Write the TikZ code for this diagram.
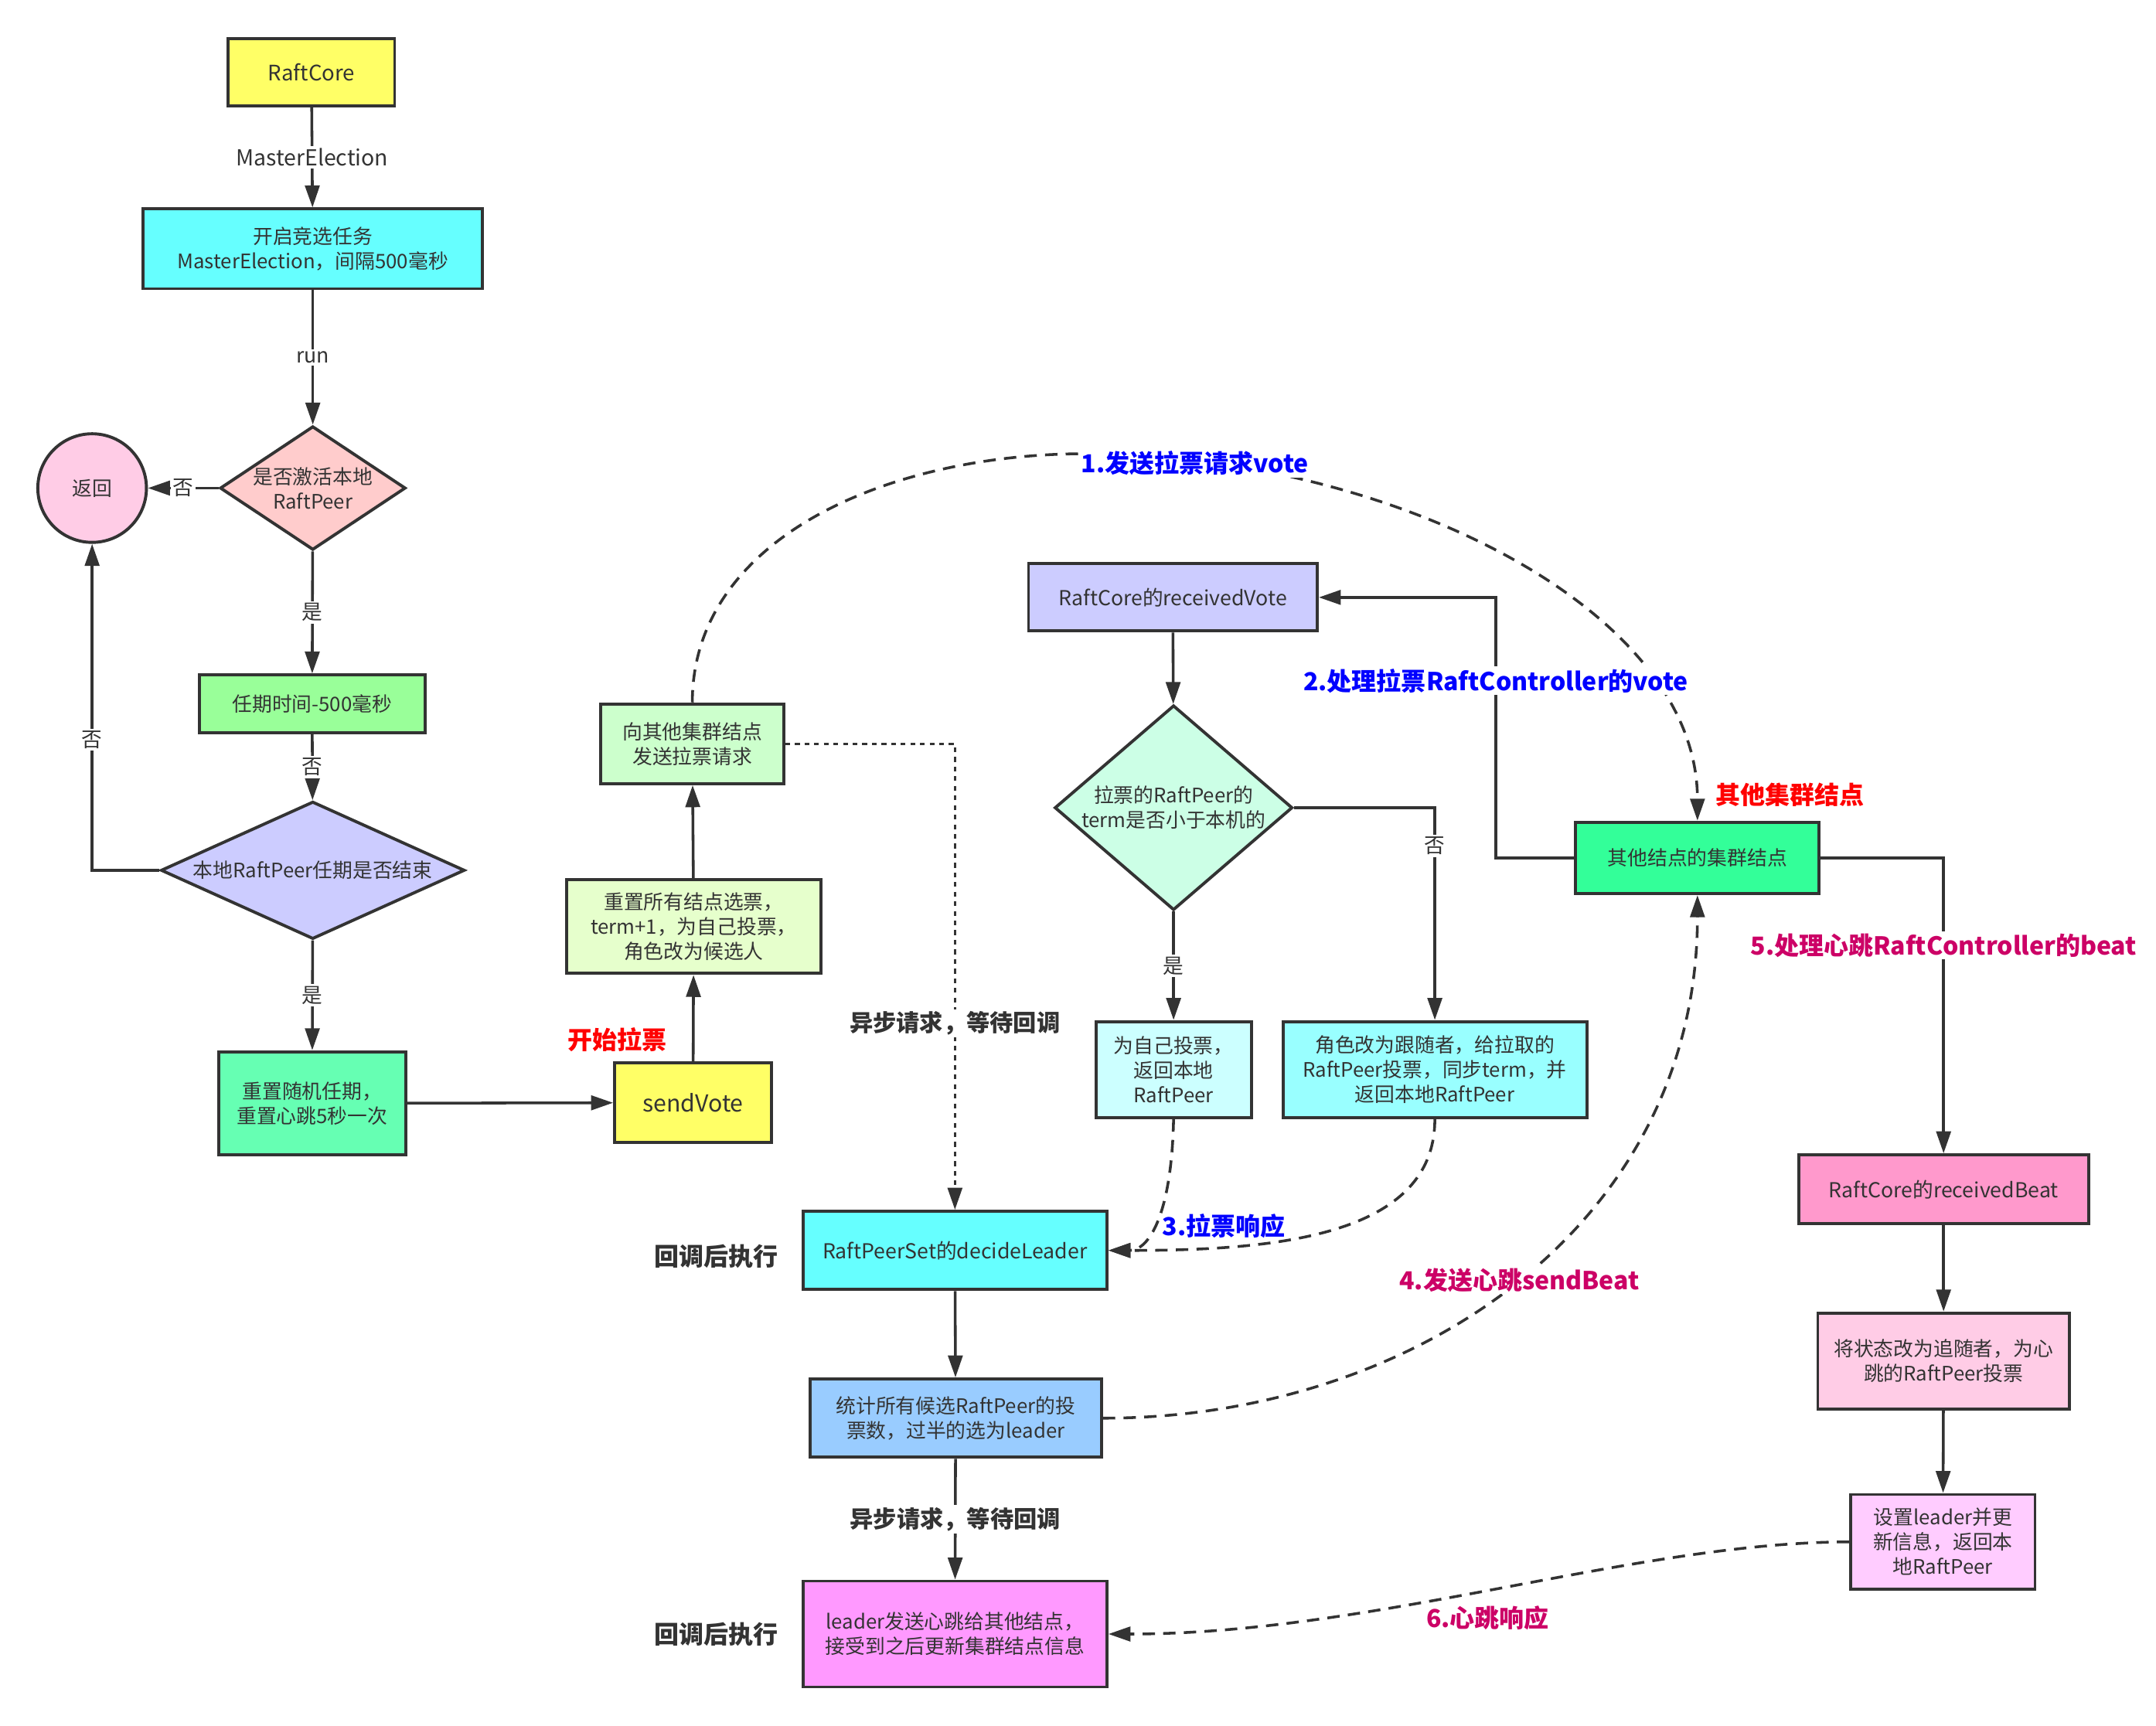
\documentclass[tikz,border=0pt]{standalone}
\usepackage{fontspec}
\setmainfont{Noto Sans CJK SC}
\usetikzlibrary{arrows.meta,shapes.geometric}
\definecolor{lc}{HTML}{333333}
\definecolor{tc}{HTML}{333333}
\definecolor{cblue}{HTML}{0000FF}
\definecolor{cmag}{HTML}{CC0066}
\definecolor{cred}{HTML}{FF0000}
\definecolor{fYellow}{HTML}{FFFF66}
\definecolor{fCyan}{HTML}{66FFFF}
\definecolor{fRose}{HTML}{FFCCCC}
\definecolor{fPink}{HTML}{FFCCE6}
\definecolor{fGreen}{HTML}{99FF99}
\definecolor{fLav}{HTML}{CCCCFF}
\definecolor{fMint}{HTML}{66FFB3}
\definecolor{fLime}{HTML}{E6FFCC}
\definecolor{fPale}{HTML}{CCFFCC}
\definecolor{fAqua}{HTML}{CCFFE6}
\definecolor{fIce}{HTML}{CCFFFF}
\definecolor{fSky}{HTML}{99FFFF}
\definecolor{fSpring}{HTML}{33FF99}
\definecolor{fBlue}{HTML}{99CCFF}
\definecolor{fMagenta}{HTML}{FF99FF}
\definecolor{fHot}{HTML}{FF99CC}
\definecolor{fOrchid}{HTML}{FFCCFF}
\tikzset{
  box/.style={draw=lc, line width=2.2pt, rectangle, inner sep=0pt, align=center,
    text=tc, font=\fontsize{14.5}{18}\selectfont},
  dia/.style={draw=lc, line width=2.2pt, diamond, inner sep=0pt},
  dtext/.style={align=center, text=tc, font=\fontsize{14.5}{18}\selectfont},
  conn/.style={draw=lc, line width=2pt, -{Triangle[length=16pt,width=10.5pt]}},
  dconn/.style={conn, dash pattern=on 9pt off 6pt},
  dotconn/.style={conn, dash pattern=on 3.5pt off 3.5pt},
  lab/.style={fill=white, inner sep=1.5pt, text=tc, font=\fontsize{15}{18}\selectfont},
  blab/.style={inner sep=1.5pt, font=\bfseries\fontsize{18}{22}\selectfont},
  glab/.style={fill=white, inner sep=1.5pt, text=tc, font=\bfseries\fontsize{17}{20}\selectfont},
}
\begin{document}
\begin{tikzpicture}[x=1pt,y=-1pt]
\fill[white] (0,0) rectangle (1568,1255);
\useasboundingbox (0,0) rectangle (1568,1255);

% left column
\node[box, fill=fYellow, minimum width=121pt, minimum height=49pt, font=\fontsize{15.5}{18}\selectfont] (rc) at (226.5,52.5) {RaftCore};
\node[box, fill=fCyan, minimum width=247pt, minimum height=58pt] (elect) at (227.5,181) {开启竞选任务\\MasterElection，间隔500毫秒};
\node[dia, fill=fRose, minimum width=135pt, minimum height=90pt,
  label={[dtext]center:是否激活本地\\RaftPeer}] (d1) at (227.5,355) {};
\node[draw=lc, line width=2.2pt, circle, fill=fPink, minimum size=79pt, inner sep=0pt, text=tc, font=\fontsize{14.5}{18}\selectfont] (ret) at (67,355) {返回};
\node[box, fill=fGreen, minimum width=164pt, minimum height=42pt] (term) at (227,512) {任期时间-500毫秒};
\node[dia, fill=fLav, minimum width=221pt, minimum height=100pt,
  label={[dtext]center:本地RaftPeer任期是否结束}] (d2) at (227.5,633) {};
\node[box, fill=fMint, minimum width=136pt, minimum height=75pt] (reset) at (227,802.5) {重置随机任期，\\重置心跳5秒一次};

% second column
\node[box, fill=fYellow, minimum width=114pt, minimum height=58pt, font=\fontsize{17}{20}\selectfont] (sv) at (504,802) {sendVote};
\node[box, fill=fLime, minimum width=185pt, minimum height=68pt] (resetall) at (504.5,674) {重置所有结点选票，\\term+1，为自己投票，\\角色改为候选人};
\node[box, fill=fPale, minimum width=133pt, minimum height=58pt] (sendreq) at (503.5,541) {向其他集群结点\\发送拉票请求};

% vote handling
\node[box, fill=fLav, minimum width=210pt, minimum height=49pt, font=\fontsize{15}{18}\selectfont] (rv) at (853,434.5) {RaftCore的receivedVote};
\node[dia, fill=fAqua, minimum width=173pt, minimum height=149pt,
  label={[dtext]center:拉票的RaftPeer的\\term是否小于本机的}] (d3) at (853.5,587.5) {};
\node[box, fill=fIce, minimum width=113pt, minimum height=70pt] (self) at (853.5,778) {为自己投票，\\返回本地\\RaftPeer};
\node[box, fill=fSky, minimum width=221pt, minimum height=70pt] (follow) at (1043.5,778) {角色改为跟随者，给拉取的\\RaftPeer投票，同步term，并\\返回本地RaftPeer};
\node[box, fill=fSpring, minimum width=177pt, minimum height=52pt] (other) at (1234.5,624) {其他结点的集群结点};

% leader column
\node[box, fill=fCyan, minimum width=221pt, minimum height=57pt, font=\fontsize{15}{18}\selectfont] (decide) at (694.5,909.5) {RaftPeerSet的decideLeader};
\node[box, fill=fBlue, minimum width=212pt, minimum height=57pt] (count) at (695,1031.5) {统计所有候选RaftPeer的投\\票数，过半的选为leader};
\node[box, fill=fMagenta, minimum width=221pt, minimum height=77pt] (leader) at (694.5,1188.5) {leader发送心跳给其他结点，\\接受到之后更新集群结点信息};

% beat column
\node[box, fill=fHot, minimum width=211pt, minimum height=50pt, font=\fontsize{15}{18}\selectfont] (rb) at (1413.5,865) {RaftCore的receivedBeat};
\node[box, fill=fPink, minimum width=183pt, minimum height=70pt] (tofollow) at (1413.5,990) {将状态改为追随者，为心\\跳的RaftPeer投票};
\node[box, fill=fOrchid, minimum width=134pt, minimum height=69pt] (setleader) at (1413,1121.5) {设置leader并更\\新信息，返回本\\地RaftPeer};

% connectors left
\draw[conn] (rc) -- node[lab, font=\fontsize{16}{18}\selectfont]{MasterElection} (elect);
\draw[conn] (elect) -- node[lab]{run} (d1);
\draw[conn] (d1) -- node[lab]{否} (ret);
\draw[conn] (d1) -- node[lab]{是} (term);
\draw[conn] (term) -- node[lab]{否} (d2);
\draw[conn] (d2.west) -| node[lab, pos=0.7]{否} (ret.south);
\draw[conn] (d2) -- node[lab]{是} (reset);
\draw[conn] (reset) -- (sv);
\draw[conn] (sv) -- (resetall);
\draw[conn] (resetall) -- (sendreq);

% vote request curve
\draw[dconn] (sendreq.north) .. controls (503.5,392) and (645,330) .. (790,330)
  .. controls (1005,330) and (1234.5,440) .. (other.north);
\node[blab, fill=white, text=cblue] (l1) at (869,337) {1.发送拉票请求vote};

\draw[dotconn] (sendreq.east) -| node[glab, pos=0.8]{异步请求，等待回调} (decide.north);

\draw[conn] (rv) -- (d3);
\draw[conn] (d3) -- node[lab]{是} (self);
\draw[conn] (d3.east) -| node[lab, pos=0.59]{否} (follow.north);
\draw[conn] (other.west) -- ++(-57,0) |- node[pos=0.34, blab, fill=white, text=cblue]{2.处理拉票RaftController的vote} (rv.east);
\node[blab, text=cred] (lother) at (1302,578) {其他集群结点};
\draw[conn] (other.east) -| node[pos=0.648, blab, fill=white, text=cmag]{5.处理心跳RaftController的beat} (rb.north);
\draw[conn] (rb) -- (tofollow);
\draw[conn] (tofollow) -- (setleader);

% responses
\draw[dconn] (self.south) .. controls (852,885) and (835,909.5) .. (decide.east);
\draw[dconn] (follow.south) .. controls (1043.5,900) and (925,909.5) .. (decide.east);
\node[blab, text=cblue] (l3) at (890,892) {3.拉票响应};

\draw[conn] (decide) -- (count);
\draw[dconn] (count.east) .. controls (1030,1031.5) and (1234.5,890) .. (other.south);
\node[blab, fill=white, text=cmag] (l4) at (1105,931) {4.发送心跳sendBeat};
\draw[conn] (count) -- node[glab]{异步请求，等待回调} (leader);

\draw[dconn] (setleader.west) .. controls (1190,1121.5) and (1000,1188.5) .. (leader.east);
\node[blab, text=cmag] (l6) at (1082,1177) {6.心跳响应};

% free labels
\node[blab, text=cred] (lstart) at (449,756) {开始拉票};
\node[blab, text=tc] (cb1) at (521,914) {回调后执行};
\node[blab, text=tc] (cb2) at (521,1189) {回调后执行};
\end{tikzpicture}
\end{document}
